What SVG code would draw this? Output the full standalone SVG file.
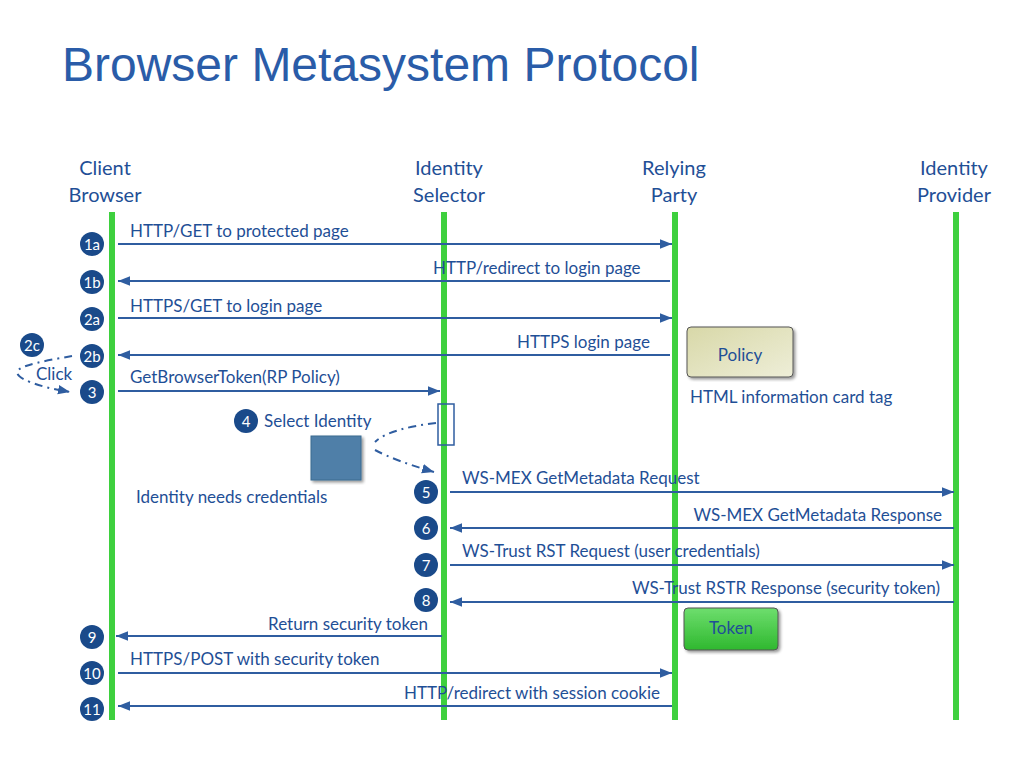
<svg xmlns="http://www.w3.org/2000/svg" width="1024" height="768" viewBox="0 0 1024 768">
<defs>
<marker id="ah" viewBox="0 0 10 10" refX="10" refY="5" markerWidth="6" markerHeight="6" orient="auto"><path d="M0,1 L10,5 L0,9 z" fill="#2f5da0"/></marker>
<linearGradient id="pg" x1="0" y1="0" x2="1" y2="1"><stop offset="0" stop-color="#d8d8a8"/><stop offset="1" stop-color="#eeeed8"/></linearGradient>
<linearGradient id="tg" x1="0" y1="0" x2="0" y2="1"><stop offset="0" stop-color="#6ede6e"/><stop offset="1" stop-color="#2fb82f"/></linearGradient>
<filter id="sh"><feDropShadow dx="2" dy="2" stdDeviation="1.5" flood-opacity="0.4"/></filter>
</defs>
<style>
text{font-family:"Lato","Open Sans",sans-serif;fill:#1f4f96;font-size:17px}
.hd{font-size:20px;text-anchor:middle}
.life{stroke:#3ed03e;stroke-width:6}
.m{stroke:#2f5da0;stroke-width:2;fill:none;marker-end:url(#ah)}
.d{stroke:#2f5da0;stroke-width:2;fill:none;stroke-dasharray:8 5 2 5}
.b circle{fill:#1a4a8a}
.b text{fill:#fff;font-size:15px;text-anchor:middle}
.e{text-anchor:end}
</style>
<rect width="1024" height="768" fill="#fff"/>
<text x="62" y="81" style="font-family:'Liberation Sans',Arial,sans-serif;font-size:48px;fill:#2a5ca8">Browser Metasystem Protocol</text>
<g id="headers">
<text class="hd" x="105" y="175">Client</text><text class="hd" x="105" y="202">Browser</text>
<text class="hd" x="449" y="175">Identity</text><text class="hd" x="449" y="202">Selector</text>
<text class="hd" x="674" y="175">Relying</text><text class="hd" x="674" y="202">Party</text>
<text class="hd" x="954" y="175">Identity</text><text class="hd" x="954" y="202">Provider</text>
</g>
<g id="lifelines">
<line class="life" x1="112" y1="212" x2="112" y2="720"/>
<line class="life" x1="444" y1="212" x2="444" y2="720"/>
<line class="life" x1="675" y1="212" x2="675" y2="720"/>
<line class="life" x1="956" y1="212" x2="956" y2="720"/>
</g>
<g id="activation"><rect x="438" y="404" width="16" height="41" fill="none" stroke="#2f5da0" stroke-width="1.5"/></g>
<g id="connectors">
<line class="m" x1="118" y1="244" x2="672" y2="244"/>
<line class="m" x1="670" y1="281" x2="118" y2="281"/>
<line class="m" x1="118" y1="318" x2="672" y2="318"/>
<line class="m" x1="670" y1="355" x2="118" y2="355"/>
<line class="m" x1="118" y1="391" x2="440" y2="391"/>
<line class="m" x1="450" y1="492" x2="954" y2="492"/>
<line class="m" x1="954" y1="528" x2="450" y2="528"/>
<line class="m" x1="450" y1="565" x2="954" y2="565"/>
<line class="m" x1="954" y1="602" x2="450" y2="602"/>
<line class="m" x1="442" y1="636" x2="116" y2="636"/>
<line class="m" x1="118" y1="673" x2="672" y2="673"/>
<line class="m" x1="672" y1="706" x2="118" y2="706"/>
<path class="d" d="M72,356 C40,362 -5,368 30,382 C45,388 60,390 70,392" marker-end="url(#ah)"/>
<path class="d" d="M436,423 C410,426 385,432 375,442"/>
<path class="d" d="M375,450 C390,458 410,465 434,472" marker-end="url(#ah)"/>
</g>
<g id="labels">
<text x="130" y="237">HTTP/GET to protected page</text>
<text x="433" y="274">HTTP/redirect to login page</text>
<text x="130" y="312">HTTPS/GET to login page</text>
<text x="517" y="348">HTTPS login page</text>
<text x="36" y="380">Click</text>
<text x="130" y="383">GetBrowserToken(RP Policy)</text>
<text x="264" y="427">Select Identity</text>
<text x="136" y="503">Identity needs credentials</text>
<text x="690" y="403">HTML information card tag</text>
<text x="462" y="484">WS-MEX GetMetadata Request</text>
<text class="e" x="942" y="521">WS-MEX GetMetadata Response</text>
<text x="462" y="557">WS-Trust RST Request (user credentials)</text>
<text class="e" x="940" y="594">WS-Trust  RSTR Response (security token)</text>
<text class="e" x="428" y="630">Return security token</text>
<text x="130" y="665">HTTPS/POST with security token</text>
<text class="e" x="660" y="699">HTTP/redirect with session cookie</text>
</g>
<g id="policy"><rect x="687" y="327" width="106" height="50" rx="4" fill="url(#pg)" stroke="#555" stroke-width="1" filter="url(#sh)"/><text x="740" y="361" text-anchor="middle">Policy</text></g>
<g id="token"><rect x="684" y="608" width="94" height="42" rx="4" fill="url(#tg)" stroke="#555" stroke-width="1" filter="url(#sh)"/><text x="731" y="634" text-anchor="middle">Token</text></g>
<g id="card"><rect x="311" y="436" width="50" height="44" fill="#4f7fa8" stroke="#3a6a90" filter="url(#sh)"/></g>
<g id="badges" class="b">
<circle cx="92" cy="244" r="12"/><text x="92" y="250">1a</text>
<circle cx="92" cy="282" r="12"/><text x="92" y="288">1b</text>
<circle cx="92" cy="319" r="12"/><text x="92" y="325">2a</text>
<circle cx="32" cy="345" r="12"/><text x="32" y="351">2c</text>
<circle cx="92" cy="356" r="12"/><text x="92" y="362">2b</text>
<circle cx="92" cy="392" r="12"/><text x="92" y="398">3</text>
<circle cx="246" cy="421" r="12"/><text x="246" y="427">4</text>
<circle cx="426" cy="492" r="12"/><text x="426" y="498">5</text>
<circle cx="426" cy="528" r="12"/><text x="426" y="534">6</text>
<circle cx="426" cy="565" r="12"/><text x="426" y="571">7</text>
<circle cx="426" cy="600" r="12"/><text x="426" y="606">8</text>
<circle cx="92" cy="637" r="12"/><text x="92" y="643">9</text>
<circle cx="92" cy="673" r="12"/><text x="92" y="679">10</text>
<circle cx="92" cy="709" r="12"/><text x="92" y="715">11</text>
</g>
</svg>
